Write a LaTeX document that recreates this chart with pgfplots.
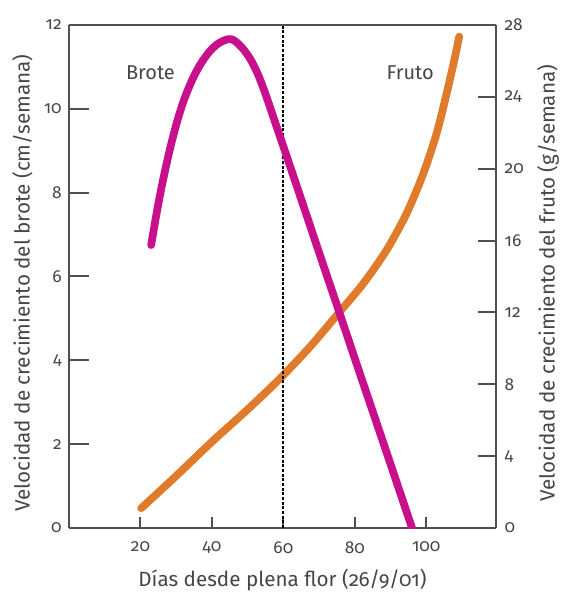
\documentclass[border=0pt]{standalone}
\usepackage{fontspec}
\setmainfont{Fira Sans}[Numbers=OldStyle]
\usepackage{pgfplots}
\pgfplotsset{compat=1.18}
\definecolor{brote}{RGB}{200,16,140}
\definecolor{fruto}{RGB}{224,123,43}
\definecolor{axgray}{RGB}{80,80,80}
\definecolor{txtgray}{RGB}{70,70,70}

\begin{document}
\begin{tikzpicture}
\path[use as bounding box] (-51.75pt,-54pt) rectangle (371.25pt,396pt);
\pgfplotsset{
  common/.style={
    scale only axis, width=320.25pt, height=377.25pt,
    at={(0,0)}, anchor=south west,
    xmin=0, xmax=119.5,
    axis line style={axgray, line width=1.5pt},
    tick style={axgray, line width=1.5pt},
    tick align=inside,
    font=\fontsize{13}{15}\selectfont\color{txtgray},
    /pgf/number format/assume math mode=true,
    label style={font=\fontsize{15.5}{18}\selectfont\color{txtgray}},
  }
}
% left axis
\begin{axis}[common,
  ymin=0, ymax=12,
  ytick={0,2,4,6,8,10,12},
  axis x line=none, axis y line*=left,
  major tick length=15pt,
  yticklabel style={xshift=-2pt},
  ylabel={Velocidad de crecimiento del brote (cm/semana)},
  ylabel style={at={(axis description cs:-0.109,0.487)}, anchor=center},
]
\end{axis}
% right axis with fruto
\begin{axis}[common,
  ymin=0, ymax=28,
  axis x line=none, axis y line*=right,
  ytick={0,4,8,12,16,20,24,28},
  major tick length=13.5pt,
  yticklabel style={xshift=3pt},
  ylabel={Velocidad de crecimiento del fruto (g/semana)},
  ylabel style={at={(axis description cs:1.122,0.487)}, anchor=center, rotate=0},
]
\addplot[fruto, line width=5.8pt, smooth, tension=0.5, line cap=round] coordinates {
 (20.2,1.1) (30,2.9) (40,4.8) (50,6.6) (59.1,8.33) (67.5,10.1)
 (75.4,11.95) (82.4,13.62) (88.9,15.48) (94.5,17.52) (99.2,19.75)
 (102.9,21.98) (105.7,24.2) (108.0,26.2) (109.2,27.35)
};
\end{axis}
% x axis with brote
\begin{axis}[common,
  ymin=0, ymax=12,
  xtick={20,40,60,80,100},
  axis x line*=bottom, axis y line=none,
  major tick length=8pt,
  xticklabel style={yshift=-7pt},
  xlabel={Días desde plena flor (26/9/01)},
  xlabel style={at={(axis description cs:0.5,-0.1034)}, anchor=center},
]
\draw[axgray, line width=1.5pt] (rel axis cs:0,1) -- (rel axis cs:1,1);
\draw[black, line width=1.5pt, dash pattern=on 2.2pt off 1.3pt] (axis cs:60,0) -- (axis cs:60,12);
\addplot[brote, line width=5.8pt, smooth, tension=0.5, line cap=round] coordinates {
 (23,6.75) (24.5,7.5) (26,8.17) (28,8.95) (30,9.62) (32,10.17) (34,10.6)
 (36,10.95) (38,11.22) (40,11.43) (42,11.57) (44,11.65) (45.5,11.66)
 (47,11.58) (49,11.4) (51,11.15) (53,10.8) (55,10.35) (57,9.85) (59,9.35)
 (61,8.85) (65,7.84) (70,6.57) (75,5.31) (80,4.04) (85,2.78) (90,1.52) (96,0)
};
\node[txtgray, font=\fontsize{15}{18}\selectfont] at (axis cs:22.8,10.86) {Brote};
\node[txtgray, font=\fontsize{15}{18}\selectfont] at (axis cs:95.5,10.86) {Fruto};
\end{axis}
\end{tikzpicture}
\end{document}
